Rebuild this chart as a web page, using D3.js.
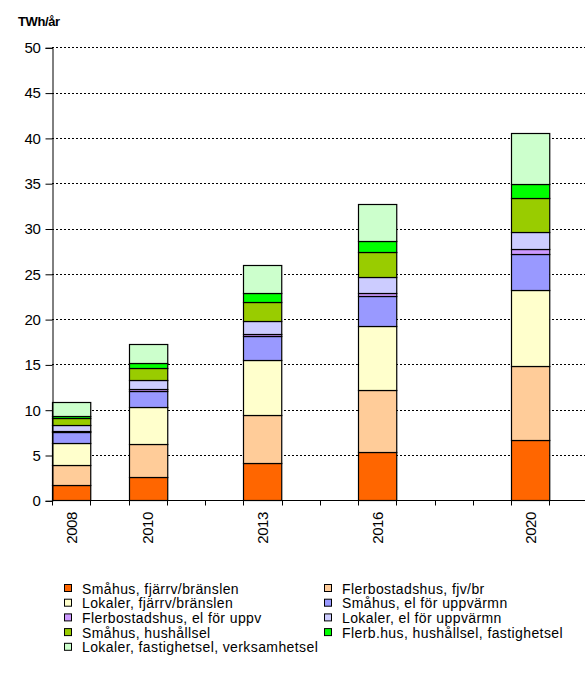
<!DOCTYPE html>
<html>
<head>
<meta charset="utf-8">
<script src="https://cdn.jsdelivr.net/npm/d3@7"></script>
<style>
  html, body { margin: 0; padding: 0; background: #fff; }
  svg { display: block; font-family: "Liberation Sans", Arial, sans-serif; }
</style>
</head>
<body>
<svg id="chart" width="585" height="674"></svg>
<script>
// ---- data ----
const years = [2008, 2010, 2013, 2016, 2020];
const allYears = [2008, 2009, 2010, 2011, 2012, 2013, 2014, 2015, 2016, 2017, 2018, 2019, 2020, 2021];
const yTicks = [0, 5, 10, 15, 20, 25, 30, 35, 40, 45, 50];
const yTitle = "TWh/år";

const seriesNames = [
  "Småhus, fjärrv/bränslen",
  "Flerbostadshus, fjv/br",
  "Lokaler, fjärrv/bränslen",
  "Småhus, el för uppvärmn",
  "Flerbostadshus, el för uppv",
  "Lokaler, el för uppvärmn",
  "Småhus, hushållsel",
  "Flerb.hus, hushållsel, fastighetsel",
  "Lokaler, fastighetsel, verksamhetsel"
];
const seriesColors = ["#FF6600", "#FFCC99", "#FFFFCC", "#9999FF", "#CC99FF", "#CCCCFF", "#99CC00", "#00FF00", "#CCFFCC"];

const smahusFjv   = [1.69, 2.54, 4.12, 5.30, 6.69];
const flerbFjv    = [2.24, 3.64, 5.33, 6.91, 8.10];
const lokalerFjv  = [2.39, 4.14, 6.03, 7.06, 8.46];
const smahusEl    = [1.22, 1.71, 2.62, 3.33, 3.97];
const flerbEl     = [0.08, 0.25, 0.29, 0.27, 0.52];
const lokalerEl   = [0.64, 0.96, 1.40, 1.74, 1.91];
const smahusHh    = [0.82, 1.38, 2.06, 2.79, 3.75];
const flerbHh     = [0.19, 0.50, 1.03, 1.19, 1.55];
const lokalerFast = [1.61, 2.10, 3.12, 4.11, 5.55];

const seriesValues = [smahusFjv, flerbFjv, lokalerFjv, smahusEl, flerbEl, lokalerEl, smahusHh, flerbHh, lokalerFast];

// ---- build table ----
const keys = seriesNames.map((d, i) => "s" + i);
const table = years.map((y, j) => {
  const row = { year: y };
  keys.forEach((k, i) => row[k] = seriesValues[i][j]);
  return row;
});
const stacked = d3.stack().keys(keys)(table);

const svg = d3.select("#chart");

const x = d3.scaleBand().domain(allYears).range([52, 587.5]).padding(0);
const y = d3.scaleLinear().domain([0, 50]).range([500.3, 47.3]);

// gridlines
svg.append("g").selectAll("line")
  .data(yTicks.filter(d => d > 0))
  .join("line")
  .attr("x1", 52).attr("x2", 585)
  .attr("y1", d => Math.round(y(d)) + 0.5).attr("y2", d => Math.round(y(d)) + 0.5)
  .attr("stroke", "#000").attr("stroke-width", 1)
  .attr("stroke-dasharray", "2,2");

// bars
svg.append("g").selectAll("g")
  .data(stacked)
  .join("g")
  .attr("fill", (d, i) => seriesColors[i])
  .selectAll("rect")
  .data(d => d)
  .join("rect")
  .attr("x", d => Math.round(x(d.data.year)) + 0.5)
  .attr("width", x.bandwidth())
  .attr("y", d => Math.round(y(d[1])) + 0.5)
  .attr("height", d => Math.round(y(d[0])) - Math.round(y(d[1])))
  .attr("stroke", "#000").attr("stroke-width", 1.2);

// y axis
const yAxis = d3.axisLeft(y).tickValues(yTicks).tickSize(7).tickPadding(5).tickFormat(d3.format("d"));
const gy = svg.append("g").attr("transform", "translate(52.5,0.5)").call(yAxis);
gy.select(".domain").attr("stroke", "#000");
gy.selectAll(".tick line").attr("stroke", "#000");
gy.selectAll(".tick text").attr("font-size", 15).attr("fill", "#000")
  .attr("font-family", "'Liberation Sans', Arial, sans-serif").attr("letter-spacing", "-0.4px");

// x axis line
svg.append("line").attr("x1", 52).attr("x2", 585).attr("y1", 500.5).attr("y2", 500.5).attr("stroke", "#000");
// x ticks at category boundaries
svg.append("g").selectAll("line")
  .data(allYears)
  .join("line")
  .attr("x1", d => Math.round(x(d)) + 0.5).attr("x2", d => Math.round(x(d)) + 0.5)
  .attr("y1", 500.5).attr("y2", 505.5)
  .attr("stroke", "#000");

// x labels
svg.append("g").selectAll("text")
  .data(years)
  .join("text")
  .attr("transform", d => `translate(${x(d) + x.bandwidth() / 2 + 5.5},512) rotate(-90)`)
  .attr("text-anchor", "end")
  .attr("font-size", 15)
  .attr("letter-spacing", "-0.4px")
  .text(d => d);

// y title
svg.append("text").attr("x", 18).attr("y", 26)
  .attr("font-size", 13).attr("font-weight", "bold").attr("letter-spacing", "-0.4px")
  .text(yTitle);

// legend
const legend = svg.append("g");
const items = legend.selectAll("g").data(seriesNames).join("g")
  .attr("transform", (d, i) => `translate(${i % 2 === 0 ? 64.5 : 324.5},${584.5 + Math.floor(i / 2) * 14.7})`);
items.append("rect").attr("width", 7).attr("height", 7)
  .attr("fill", (d, i) => seriesColors[i]).attr("stroke", "#000");
items.append("text").attr("x", 17.5).attr("y", 9)
  .attr("font-size", 14).attr("letter-spacing", "0.4px")
  .text(d => d);
</script>
</body>
</html>
